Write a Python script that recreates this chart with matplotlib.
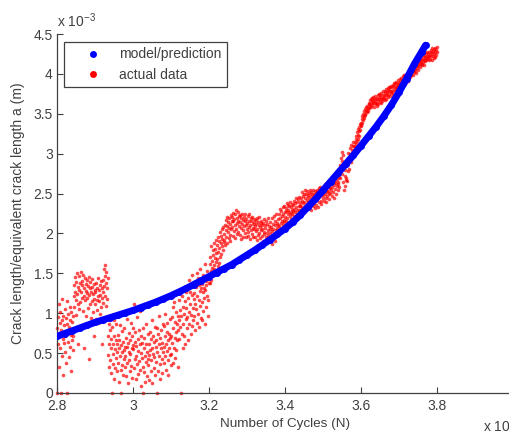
import numpy as np
import matplotlib
matplotlib.use('Agg')
import matplotlib.pyplot as plt
from matplotlib.lines import Line2D

plt.rcParams['font.family'] = ['Liberation Sans', 'DejaVu Sans']
plt.rcParams['mathtext.default'] = 'regular'

# model curve (cycles x 1e4, crack length x 1e-3 m)
model_cycles = [2.80, 2.82, 2.84, 2.86, 2.88, 2.90, 2.92, 2.94, 2.96, 2.98,
                3.00, 3.02, 3.04, 3.06, 3.08, 3.10, 3.12, 3.14, 3.16, 3.18,
                3.20, 3.22, 3.24, 3.26, 3.28, 3.30, 3.32, 3.34, 3.36, 3.38,
                3.40, 3.42, 3.44, 3.46, 3.48, 3.50, 3.52, 3.54, 3.56, 3.58,
                3.60, 3.62, 3.64, 3.66, 3.68, 3.70, 3.72, 3.74, 3.76, 3.77]
model_crack = [0.71, 0.745, 0.78, 0.815, 0.85, 0.885, 0.915, 0.945, 0.975, 1.005,
               1.035, 1.07, 1.105, 1.14, 1.18, 1.22, 1.265, 1.31, 1.36, 1.41,
               1.46, 1.51, 1.56, 1.61, 1.67, 1.73, 1.79, 1.855, 1.92, 1.99,
               2.06, 2.14, 2.23, 2.33, 2.43, 2.54, 2.65, 2.76, 2.87, 2.98,
               3.10, 3.22, 3.34, 3.47, 3.61, 3.77, 3.94, 4.12, 4.28, 4.36]

# measured data, sampled evenly from 2.8e4 to 3.8e4 cycles
first_cycle = 2.8
last_cycle = 3.8
actual_crack = [
    0.82, 0.0, 0.95, 0.61, 1.12, 0.74, 0.33, 0.88, 1.02, 0.57, 0.0, 0.79, 0.46, 1.18, 0.91, 0.68, 0.22, 0.97, 0.85, 0.63,
    0.71, 1.05, 0.52, 0.94, 0.38, 0.86, 1.15, 0.0, 0.77, 0.64, 0.99, 0.45, 0.83, 1.08, 0.58, 0.92, 0.27, 0.73, 1.01, 0.66,
    0.89, 0.54, 0.97, 0.72, 1.21, 1.36, 1.08, 1.45, 1.27, 0.98, 1.39, 1.16, 1.51, 1.24, 0.62, 1.33, 1.12, 1.47, 1.05, 1.29,
    1.38, 1.14, 1.52, 1.26, 0.83, 1.41, 1.19, 1.35, 1.03, 1.48, 1.22, 1.31, 0.56, 1.44, 1.17, 1.37, 1.28, 0.97, 1.42, 1.25,
    1.19, 1.34, 1.07, 1.46, 1.23, 0.43, 1.31, 1.12, 1.39, 0.94, 1.27, 1.43, 1.15, 1.33, 1.02, 1.24, 0.71, 1.37, 1.18, 1.29,
    1.11, 1.26, 0.93, 1.38, 1.17, 1.32, 1.04, 1.21, 1.44, 0.88, 1.15, 1.29, 1.36, 0.99, 1.23, 1.41, 1.08, 1.31, 0.62, 1.19,
    1.27, 1.42, 1.13, 1.55, 1.34, 1.61, 1.22, 1.47, 1.09, 1.38, 1.52, 1.18, 1.31, 1.44, 0.71, 0.48, 0.86, 0.33, 0.62, 0.79,
    0.41, 0.68, 0.25, 0.57, 0.0, 0.83, 0.36, 0.62, 0.49, 0.91, 0.18, 0.72, 0.55, 0.31, 0.66, 0.44, 0.87, 0.52, 0.27, 0.61,
    0.73, 0.38, 0.56, 0.14, 0.67, 0.47, 0.85, 0.29, 0.6, 0.0, 0.51, 0.78, 0.35, 0.64, 0.22, 0.54, 0.43, 0.81, 0.58, 0.32,
    0.46, 0.69, 0.21, 0.58, 0.93, 0.37, 0.63, 0.12, 0.52, 0.75, 0.41, 0.28, 0.66, 0.49, 0.88, 0.34, 0.57, 0.71, 0.19, 0.6,
    0.55, 0.82, 0.31, 1.12, 0.64, 0.42, 0.76, 0.17, 0.59, 0.47, 0.95, 0.36, 0.68, 0.24, 0.53, 0.79, 0.4, 1.03, 0.61, 0.29,
    0.5, 0.72, 0.09, 0.44, 0.63, 0.0, 0.81, 0.33, 0.56, 0.26, 0.69, 0.47, 0.14, 0.61, 0.39, 0.87, 0.52, 0.21, 0.74, 0.43,
    0.35, 0.62, 0.48, 0.16, 0.77, 0.54, 0.27, 0.68, 0.41, 0.92, 0.57, 0.12, 0.49, 0.71, 0.31, 0.64, 0.45, 0.83, 0.23, 0.58,
    0.66, 0.39, 0.81, 0.52, 0.0, 0.74, 0.28, 0.61, 0.47, 0.96, 0.36, 0.69, 0.18, 0.57, 0.79, 0.43, 0.63, 0.25, 0.86, 0.51,
    0.58, 0.84, 0.37, 0.71, 0.46, 0.99, 0.62, 0.29, 0.77, 0.53, 0.88, 0.41, 0.67, 0.22, 0.74, 0.56, 0.93, 0.48, 0.69, 0.35,
    0.72, 0.49, 0.95, 0.63, 1.08, 0.38, 0.81, 0.57, 1.14, 0.69, 0.44, 0.89, 0.76, 1.02, 0.54, 0.86, 0.66, 0.97, 0.33, 0.79,
    0.91, 1.17, 0.68, 1.04, 0.83, 1.29, 0.0, 0.96, 0.74, 1.22, 0.57, 1.08, 0.87, 1.33, 0.71, 0.99, 1.15, 0.62, 1.26, 0.93,
    1.06, 0.81, 1.31, 0.95, 1.19, 0.66, 1.42, 1.02, 0.87, 1.27, 1.11, 0.74, 1.36, 0.98, 1.23, 0.84, 1.48, 1.07, 0.92, 1.18,
    1.25, 0.97, 1.39, 1.12, 0.79, 1.33, 1.05, 1.51, 0.88, 1.21, 1.44, 0.99, 1.16, 1.35, 0.83, 1.28, 1.09, 1.55, 0.94, 1.31,
    1.14, 1.37, 0.91, 1.26, 1.48, 1.03, 1.32, 1.19, 1.62, 0.86, 1.29, 1.41, 1.08, 1.35, 1.22, 1.53, 0.97, 1.43, 1.17, 1.38,
    1.46, 1.62, 1.38, 1.71, 1.53, 1.84, 1.42, 1.66, 1.57, 1.79, 1.49, 1.73, 1.61, 1.88, 1.55, 1.69, 1.81, 1.64, 1.92, 1.75,
    1.68, 1.86, 1.59, 1.95, 1.77, 1.63, 1.91, 1.82, 2.02, 1.71, 1.88, 1.97, 1.74, 2.05, 1.84, 1.93, 1.79, 2.08, 1.89, 1.99,
    1.92, 2.11, 1.85, 2.04, 2.17, 1.96, 2.09, 1.88, 2.21, 2.02, 2.14, 1.94, 2.07, 2.19, 1.98, 2.12, 1.91, 2.23, 2.05, 2.16,
    2.08, 2.21, 1.97, 2.15, 2.26, 2.03, 2.18, 1.94, 2.24, 2.11, 2.29, 2.06, 2.19, 1.99, 2.13, 2.27, 2.02, 2.16, 2.22, 2.09,
    2.14, 1.98, 2.23, 2.07, 2.19, 1.93, 2.12, 2.25, 2.04, 2.17, 1.96, 2.21, 2.09, 2.15, 2.01, 2.24, 2.11, 1.95, 2.18, 2.06,
    2.13, 2.02, 2.22, 1.97, 2.16, 2.08, 2.24, 1.93, 2.11, 2.19, 2.04, 2.15, 1.99, 2.21, 2.07, 2.12, 1.95, 2.18, 2.05, 2.14,
    2.09, 1.96, 2.17, 2.03, 2.12, 1.92, 2.19, 2.06, 2.14, 1.98, 2.11, 2.21, 2.01, 2.08, 1.94, 2.16, 2.04, 2.13, 1.97, 2.1,
    2.05, 1.91, 2.13, 1.99, 2.18, 2.02, 1.88, 2.11, 2.07, 1.95, 2.15, 2.0, 1.93, 2.12, 2.04, 2.19, 1.97, 2.09, 1.9, 2.06,
    2.01, 2.14, 1.93, 2.08, 1.87, 2.19, 2.03, 1.96, 2.12, 2.05, 2.22, 1.98, 2.1, 1.91, 2.16, 2.04, 2.24, 2.0, 2.13, 2.07,
    2.11, 2.18, 2.02, 2.25, 2.09, 2.31, 2.06, 2.19, 2.13, 2.28, 2.04, 2.22, 2.16, 2.33, 2.1, 2.24, 2.17, 2.35, 2.14, 2.27,
    2.21, 2.32, 2.15, 2.28, 2.38, 2.19, 2.3, 2.24, 2.36, 2.12, 2.27, 2.34, 2.22, 2.39, 2.26, 2.18, 2.33, 2.29, 2.37, 2.25,
    2.28, 2.36, 2.22, 2.41, 2.31, 2.19, 2.38, 2.27, 2.44, 2.33, 2.25, 2.4, 2.3, 2.43, 2.21, 2.35, 2.46, 2.29, 2.39, 2.34,
    2.36, 2.45, 2.29, 2.41, 2.52, 2.33, 2.47, 2.38, 2.26, 2.49, 2.4, 2.54, 2.35, 2.44, 2.31, 2.5, 2.42, 2.37, 2.53, 2.46,
    2.39, 2.48, 2.33, 2.51, 2.43, 2.55, 2.36, 2.47, 2.29, 2.52, 2.41, 2.49, 2.35, 2.54, 2.44, 2.38, 2.5, 2.46, 2.32, 2.53,
    2.42, 2.51, 2.36, 2.55, 2.46, 2.33, 2.53, 2.44, 2.57, 2.39, 2.5, 2.47, 2.58, 2.41, 2.52, 2.37, 2.49, 2.56, 2.45, 2.54,
    2.48, 2.56, 2.41, 2.59, 2.5, 2.62, 2.44, 2.55, 2.39, 2.6, 2.52, 2.47, 2.61, 2.53, 2.43, 2.58, 2.49, 2.63, 2.51, 2.57,
    2.55, 2.62, 2.47, 2.66, 2.58, 2.69, 2.52, 2.64, 2.44, 2.61, 2.7, 2.56, 2.67, 2.5, 2.63, 2.72, 2.59, 2.68, 2.54, 2.65,
    2.62, 2.71, 2.58, 2.77, 2.86, 2.69, 2.94, 2.81, 3.02, 2.75, 2.91, 2.64, 2.98, 2.83, 2.55, 2.88, 2.72, 2.6, 2.79, 2.67,
    2.7, 2.84, 2.66, 2.93, 2.78, 3.01, 2.87, 2.96, 2.81, 3.07, 2.92, 3.0, 2.89, 3.11, 2.97, 3.05, 2.94, 3.14, 3.03, 3.09,
    3.02, 3.1, 3.05, 3.15, 3.08, 3.19, 3.12, 3.22, 3.16, 3.27, 3.19, 3.24, 3.31, 3.22, 3.34, 3.28, 3.37, 3.3, 3.39, 3.35,
    3.36, 3.43, 3.39, 3.47, 3.42, 3.5, 3.45, 3.53, 3.47, 3.5, 3.56, 3.49, 3.53, 3.58, 3.52, 3.55, 3.6, 3.54, 3.57, 3.62,
    3.57, 3.63, 3.6, 3.67, 3.62, 3.69, 3.58, 3.65, 3.7, 3.61, 3.66, 3.64, 3.71, 3.59, 3.68, 3.63, 3.72, 3.66, 3.62, 3.69,
    3.64, 3.7, 3.6, 3.73, 3.67, 3.62, 3.75, 3.68, 3.71, 3.65, 3.74, 3.69, 3.63, 3.76, 3.7, 3.66, 3.73, 3.78, 3.68, 3.72,
    3.7, 3.76, 3.67, 3.79, 3.73, 3.81, 3.69, 3.77, 3.74, 3.82, 3.71, 3.78, 3.84, 3.75, 3.8, 3.72, 3.83, 3.77, 3.85, 3.79,
    3.76, 3.83, 3.79, 3.86, 3.74, 3.88, 3.81, 3.85, 3.78, 3.89, 3.83, 3.8, 3.9, 3.84, 3.87, 3.82, 3.92, 3.86, 3.89, 3.85,
    3.84, 3.9, 3.87, 3.93, 3.82, 3.95, 3.88, 3.91, 3.86, 3.97, 3.89, 3.94, 3.9, 3.98, 3.92, 3.87, 3.99, 3.93, 3.96, 3.91,
    3.93, 3.99, 3.95, 4.02, 3.91, 4.04, 3.97, 4.01, 3.96, 4.06, 4.0, 3.98, 4.08, 4.03, 4.05, 3.99, 4.1, 4.04, 4.07, 4.02,
    4.03, 4.09, 4.06, 4.12, 4.01, 4.14, 4.08, 4.11, 4.05, 4.16, 4.1, 4.13, 4.18, 4.09, 4.15, 4.12, 4.19, 4.14, 4.17, 4.11,
    4.13, 4.19, 4.15, 4.22, 4.11, 4.24, 4.18, 4.21, 4.16, 4.26, 4.2, 4.17, 4.23, 4.27, 4.19, 4.25, 4.21, 4.28, 4.22, 4.18,
    4.24, 4.19, 4.27, 4.22, 4.3, 4.17, 4.26, 4.32, 4.23, 4.29, 4.2, 4.31, 4.25, 4.33, 4.21, 4.28, 4.3, 4.24, 4.34, 4.27,
]
actual_cycles = np.linspace(first_cycle, last_cycle, len(actual_crack))

x_ticks = [2.8, 3.0, 3.2, 3.4, 3.6, 3.8, 4.0]
x_labels = ['2.8', '3', '3.2', '3.4', '3.6', '3.8', '4']
y_ticks = [0, 0.5, 1, 1.5, 2, 2.5, 3, 3.5, 4, 4.5]
y_labels = ['0', '0.5', '1', '1.5', '2', '2.5', '3', '3.5', '4', '4.5']

dark = '#404040'

fig = plt.figure(figsize=(5.1, 4.34), dpi=100)
ax = fig.add_axes([57 / 510, 41 / 434, 456 / 510, 359 / 434])

# measured data as small red dots
ax.plot(actual_cycles, actual_crack, linestyle='none', marker='o', markersize=2.6,
        markeredgewidth=0, color='#ff0000', alpha=0.7, clip_on=False, zorder=2)

# model curve as a thick band of blue dots
ax.plot(model_cycles, model_crack, color='#0000ff', linewidth=5,
        solid_capstyle='round', zorder=3)
ax.plot(model_cycles, model_crack, linestyle='none', marker='o', markersize=5,
        markeredgewidth=0, color='#0000ff', zorder=3)

ax.set_xlim(2.8, 4.0)
ax.set_ylim(0, 4.5)
ax.set_xticks(x_ticks)
ax.set_xticklabels(x_labels)
ax.set_yticks(y_ticks)
ax.set_yticklabels(y_labels)

for side in ['top', 'right']:
    ax.spines[side].set_visible(False)
for side in ['left', 'bottom']:
    ax.spines[side].set_color(dark)
    ax.spines[side].set_linewidth(0.9)

ax.tick_params(direction='in', length=4, width=0.8, colors=dark, labelsize=10)
ax.tick_params(axis='x', pad=4)
ax.tick_params(axis='y', pad=3)

ax.set_xlabel('Number of Cycles (N)', fontsize=9.7, color=dark, labelpad=4)
ax.set_ylabel('Crack length/equivalent crack length a (m)', fontsize=10, color=dark, labelpad=6)

# MATLAB style exponent labels
ax.text(0.0, 1.012, 'x 10$^{-3}$', transform=ax.transAxes, ha='left', va='bottom',
        fontsize=10, color=dark)
fig.text(483 / 510, 0.004, 'x 10$^{4}$', ha='left', va='baseline', fontsize=10, color=dark)

handles = [
    Line2D([], [], linestyle='none', marker='o', markersize=5, markeredgewidth=0,
           color='#0000ff', label='model/prediction'),
    Line2D([], [], linestyle='none', marker='o', markersize=5, markeredgewidth=0,
           color='#ff0000', label='actual data'),
]
leg = ax.legend(handles=handles, loc='upper left', bbox_to_anchor=(0.015, 0.978),
                borderaxespad=0, fontsize=10, handlelength=3.4, handletextpad=0.15,
                labelspacing=0.45, borderpad=0.4, fancybox=False, framealpha=1)
leg.get_frame().set_edgecolor(dark)
leg.get_frame().set_linewidth(0.9)
for t in leg.get_texts():
    t.set_color(dark)

fig.savefig('out.png', dpi=100)
